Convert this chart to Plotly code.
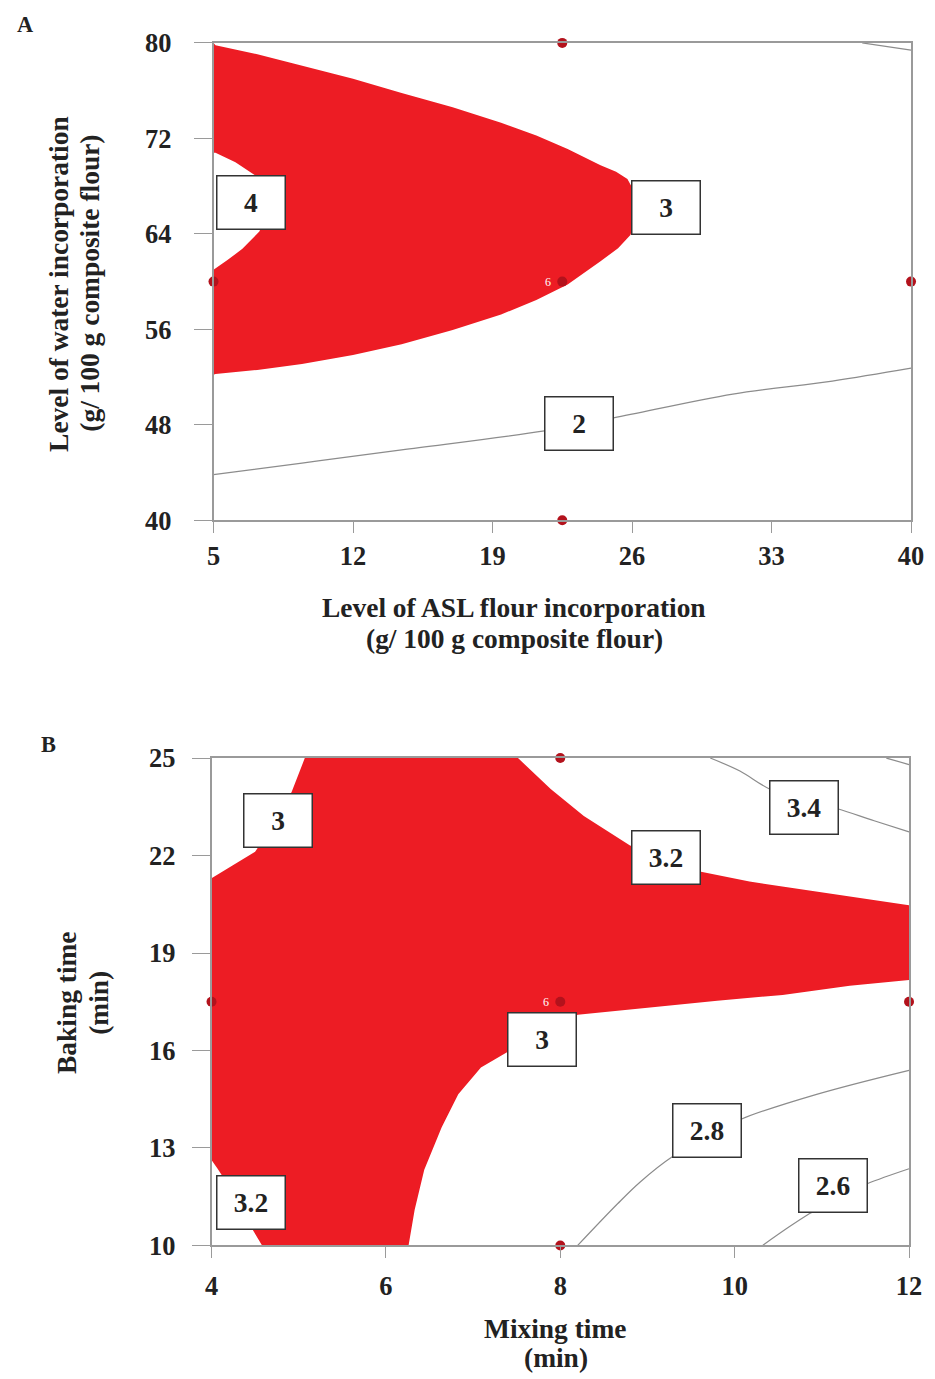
import plotly.graph_objects as go

# ---------------- Panel A data ----------------
a_x_ticks = [5, 12, 19, 26, 33, 40]
a_y_ticks = [40, 48, 56, 64, 72, 80]

a_region_x = [5, 5.1, 7.2, 9.44, 12.0, 14.44, 17.0, 19.43, 21.2, 22.77, 24.42, 25.2, 25.77, 26.1, 26.3,
              26.2, 25.92, 25.3, 24.42, 22.77, 21.2, 19.43, 17.0, 14.44, 12.0, 9.44, 7.2, 5.1, 5,
              5, 5.7, 6.45, 7.3, 7.9, 7.7, 7.1, 6.1, 5.1, 5, 5]
a_region_y = [80, 79.8, 79.05, 78.1, 77.0, 75.8, 74.6, 73.3, 72.25, 71.1, 69.75, 69.2, 68.6, 67.6, 66.5,
              65.2, 63.9, 62.8, 61.7, 59.75, 58.45, 57.25, 55.95, 54.75, 53.85, 53.1, 52.6, 52.25, 52.2,
              61, 61.8, 62.75, 64.2, 66.5, 67.6, 68.9, 70, 70.8, 70.8, 80]

a_c2_x = [5, 9.44, 14.44, 21.6, 25.07, 31.06, 36.05, 40]
a_c2_y = [43.83, 44.8, 45.9, 47.5, 48.58, 50.58, 51.67, 52.75]
a_corner_x = [37.55, 40]
a_corner_y = [80, 79.4]

a_labels = ["4", "3", "2"]
a_label_x = [6.9, 27.69, 23.32]
a_label_y = [66.67, 66.17, 48.08]

a_design_x = [5, 22.5, 40, 22.5, 22.5]
a_design_y = [60, 80, 60, 40, 60]

# ---------------- Panel B data ----------------
b_x_ticks = [4, 6, 8, 10, 12]
b_y_ticks = [10, 13, 16, 19, 22, 25]

b_region_x = [5.07, 7.515, 7.89, 8.27, 8.80, 9.20, 9.60, 10.17, 10.94, 11.51, 12, 12, 11.32, 10.55,
              9.80, 9.03, 8.2, 7.78, 7.38, 7.09, 6.83, 6.64, 6.44, 6.33, 6.26, 4.58, 4.47, 4.24,
              4.07, 4, 4, 4.5, 4.72, 4.92, 5.07]
b_region_y = [25, 25, 24.05, 23.22, 22.31, 21.9, 21.51, 21.2, 20.9, 20.68, 20.47, 18.17, 17.99, 17.71,
              17.53, 17.32, 17.1, 16.55, 15.94, 15.48, 14.65, 13.64, 12.33, 11.1, 10, 10, 10.49, 11.65,
              12.36, 12.63, 21.3, 22.12, 22.98, 23.96, 25]

b_c34_x = [9.72, 10.06, 10.4, 10.8, 11.18, 11.6, 12]
b_c34_y = [25, 24.6, 24.05, 23.7, 23.44, 23.07, 22.73]
b_corner_x = [11.74, 12]
b_corner_y = [25, 24.8]
b_c28_x = [8.2, 8.66, 8.92, 9.28, 9.7, 10.08, 10.94, 12]
b_c28_y = [10, 11.29, 11.96, 12.72, 13.35, 13.89, 14.65, 15.39]
b_c26_x = [10.32, 10.63, 10.86, 11.15, 11.52, 12]
b_c26_y = [10, 10.58, 10.98, 11.45, 11.9, 12.36]

b_labels = ["3", "3.2", "3.4", "3", "2.8", "2.6", "3.2"]
b_label_x = [4.765, 9.215, 10.79, 7.79, 9.68, 11.13, 4.456]
b_label_y = [23.09, 21.95, 23.48, 16.35, 13.54, 11.84, 11.32]

b_design_x = [4, 8, 12, 8, 8]
b_design_y = [17.5, 25, 17.5, 10, 17.5]

# ---------------- styling ----------------
RED = "#ed1c24"
DOT = "#b3121c"
LINE = "#8c8c8c"
SERIF = "Liberation Serif"
TXT = "#222222"

W, H = 935, 1379
# measured page transform: shown = S * layout + (OX, OY)
S, OX, OY = 0.9835, 11.5, 20.0

def lx(p):
    return (p - OX) / S
def ly(p):
    return (p - OY) / S
def px(p):
    return lx(p) / W
def py(p):
    return 1 - ly(p) / H
def fs(v):
    return v / S

fig = go.Figure()

def add_panel(xa, ya, rx, ry, lines, dx, dy):
    fig.add_trace(go.Scatter(x=rx, y=ry, mode="lines", fill="toself", fillcolor=RED,
                             line=dict(width=0, color=RED), xaxis=xa, yaxis=ya,
                             hoverinfo="skip", showlegend=False))
    for cx, cy in lines:
        fig.add_trace(go.Scatter(x=cx, y=cy, mode="lines",
                                 line=dict(color=LINE, width=1.2, shape="spline"),
                                 xaxis=xa, yaxis=ya, showlegend=False))
    fig.add_trace(go.Scatter(x=dx, y=dy, mode="markers", cliponaxis=False,
                             marker=dict(color=DOT, size=10, line=dict(width=0)),
                             xaxis=xa, yaxis=ya, showlegend=False))
    fig.add_trace(go.Scatter(x=[dx[-1]], y=[dy[-1]], mode="markers", cliponaxis=False,
                             marker=dict(color="rgba(0,0,0,0)", size=10, symbol="circle-open",
                                         line=dict(width=1.2, color="white")),
                             xaxis=xa, yaxis=ya, showlegend=False))

add_panel("x", "y", a_region_x, a_region_y,
          [(a_c2_x, a_c2_y), (a_corner_x, a_corner_y)], a_design_x, a_design_y)
add_panel("x2", "y2", b_region_x, b_region_y,
          [(b_c34_x, b_c34_y), (b_corner_x, b_corner_y), (b_c28_x, b_c28_y), (b_c26_x, b_c26_y)],
          b_design_x, b_design_y)

annotations = []
def box(text, x, y, xr, yr):
    annotations.append(dict(text="<b>%s</b>" % text, x=x, y=y, xref=xr, yref=yr, showarrow=False,
                            bgcolor="white", bordercolor="#333333", borderwidth=1.5, borderpad=1,
                            width=65, height=50, font=dict(family=SERIF, size=fs(27), color=TXT)))

for t, x, y in zip(a_labels, a_label_x, a_label_y):
    box(t, x, y, "x", "y")
for t, x, y in zip(b_labels, b_label_x, b_label_y):
    box(t, x, y, "x2", "y2")

annotations.append(dict(text="6", x=a_design_x[-1], y=a_design_y[-1], xref="x", yref="y",
                        xshift=-14, showarrow=False, font=dict(family=SERIF, size=12, color="white")))
annotations.append(dict(text="6", x=b_design_x[-1], y=b_design_y[-1], xref="x2", yref="y2",
                        xshift=-14, showarrow=False, font=dict(family=SERIF, size=12, color="white")))

def text(t, x, y, size=27, angle=0):
    annotations.append(dict(text=t, x=px(x), y=py(y), xref="paper", yref="paper", showarrow=False,
                            textangle=angle, xanchor="center", yanchor="middle",
                            font=dict(family=SERIF, size=fs(size), color=TXT, weight="bold")))

text("A", 22, 22, size=22)
text("B", 45, 745, size=22)
text("Level of ASL flour incorporation", 513, 608)
text("(g/ 100 g composite flour)", 513, 639)
text("Level of water incorporation", 55, 282, angle=-90)
text("(g/ 100 g composite flour)", 86, 282, angle=-90)
text("Mixing time", 555, 1333)
text("(min)", 555, 1362)
text("Baking time", 63, 1005, angle=-90)
text("(min)", 96, 1005, angle=-90)

axis_common = dict(showgrid=False, zeroline=False, showline=True, mirror=True,
                   linecolor="#9a9a9a", linewidth=1.5, ticks="outside", tickcolor="#9a9a9a",
                   tickwidth=1, tickfont=dict(family=SERIF, size=fs(26), color=TXT, weight="bold"))

fig.update_layout(
    width=W, height=H, margin=dict(l=0, r=0, t=0, b=0),
    paper_bgcolor="white", plot_bgcolor="white", showlegend=False,
    annotations=annotations,
    xaxis=dict(axis_common, domain=[px(211), px(912)], range=[5, 40], tickvals=a_x_ticks,
               ticklen=11, ticklabelstandoff=0, anchor="y"),
    yaxis=dict(axis_common, domain=[py(520), py(40)], range=[40, 80], tickvals=a_y_ticks,
               ticklen=18, ticklabelstandoff=17, anchor="x"),
    xaxis2=dict(axis_common, domain=[px(209), px(910)], range=[4, 12], tickvals=b_x_ticks,
                ticklen=11, ticklabelstandoff=5, anchor="y2"),
    yaxis2=dict(axis_common, domain=[py(1249), py(759)], range=[10, 25], tickvals=b_y_ticks,
                ticklen=18, ticklabelstandoff=11, anchor="x2"),
)

fig.write_html("out.html")
